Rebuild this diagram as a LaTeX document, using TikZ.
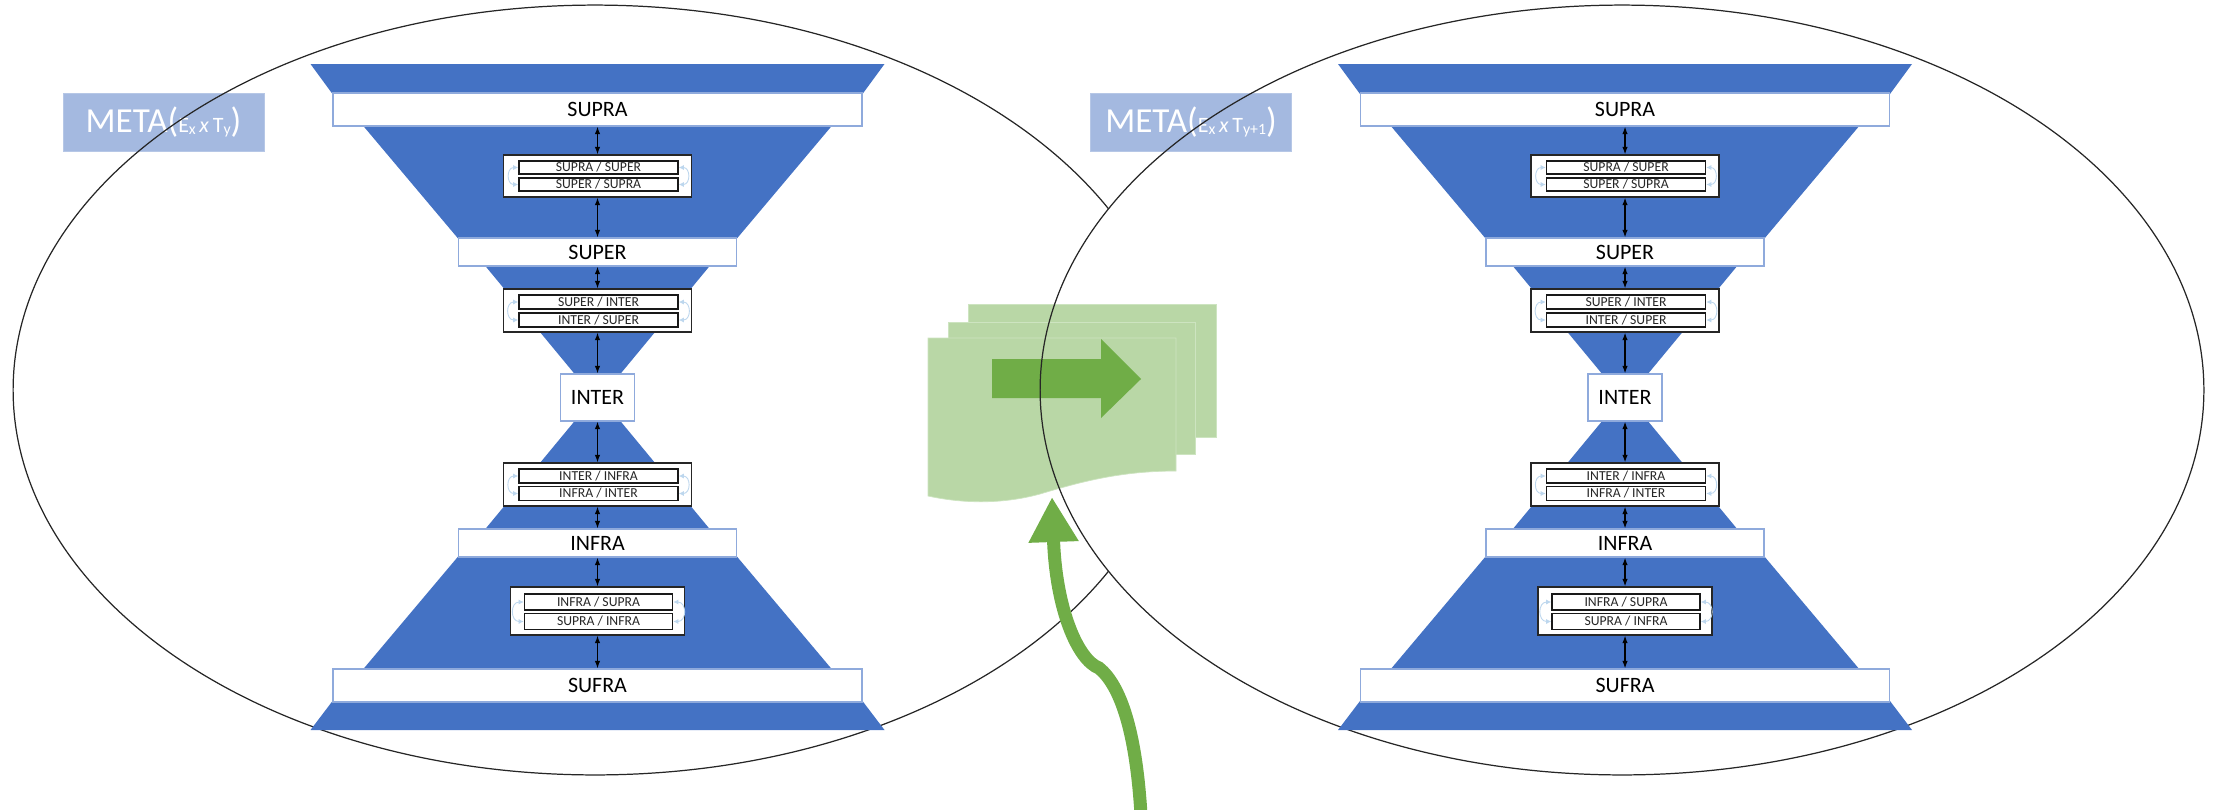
\documentclass[tikz,border=0pt]{standalone}
\usepackage{fontspec}
\setmainfont{Carlito}
\usetikzlibrary{arrows.meta}
\definecolor{dblue}{RGB}{68,114,196}
\definecolor{lblue}{RGB}{143,170,220}
\definecolor{metablue}{RGB}{164,185,224}
\definecolor{cycblue}{RGB}{189,215,238}
\definecolor{gdoc}{RGB}{185,215,166}
\definecolor{gdocline}{RGB}{205,228,192}
\definecolor{garr}{RGB}{112,173,71}
\tikzset{
  lvl/.style={draw=lblue, line width=0.8pt, fill=white, inner sep=0pt, text=black,
    font=\fontsize{12.5}{14}\selectfont},
  cont/.style={draw=black!85, line width=0.8pt, fill=white, inner sep=0pt},
  inbox/.style={draw=black!90, line width=0.9pt, fill=white, inner sep=0pt, text=black!85,
    font=\fontsize{7.8}{8}\selectfont},
  dbl/.style={black, line width=0.6pt, {Latex[length=1.5mm,width=1.1mm]}-{Latex[length=1.5mm,width=1.1mm]}},
  cyc/.style={draw=cycblue, line width=0.5pt, {Latex[length=1mm,width=1mm]}-{Latex[length=1mm,width=1mm]}},
  metabox/.style={fill=metablue, draw=metablue!80!white, line width=0.4pt, text=white, inner sep=0pt},
  ell/.style={draw=black!85, line width=0.7pt},
  docshape/.style={fill=gdoc, draw=gdocline, line width=0.4pt},
  garrow/.style={draw=garr, line width=0.26cm, -{Triangle[width=0.94cm,length=0.9cm]}}
}
\newcommand{\metalabel}[3]{%
  \begin{scope}[shift={(#2,0)}]
  \node[metabox, minimum width=4.02cm, minimum height=1.16cm] (#1meta) at (-434,122)
    {{\fontsize{20}{20}\selectfont META(}{\fontsize{12.5}{12}\selectfont E{\fontsize{9}{9}\selectfont\raisebox{-0.3ex}{x}}\,\textit{x}\,T{\fontsize{9}{9}\selectfont\raisebox{-0.3ex}{#3}}}{\fontsize{20}{20}\selectfont )}};
  \end{scope}}
\newcommand{\levelstack}[2]{%
  \begin{scope}[shift={(#2,0)}]
  \fill[dblue] (-287,64) -- (287,64) -- (265,94) -- (-265,94) -- cycle;
  \fill[dblue] (-235,125) -- (235,125) -- (139,239) -- (-139,239) -- cycle;
  \fill[dblue] (-113,265) -- (113,265) -- (22,375) -- (-22,375) -- cycle;
  \fill[dblue] (-22,420) -- (22,420) -- (113,530) -- (-113,530) -- cycle;
  \fill[dblue] (-139,556) -- (139,556) -- (235,670) -- (-235,670) -- cycle;
  \fill[dblue] (-265,701) -- (265,701) -- (287,730) -- (-287,730) -- cycle;
  \node[lvl, minimum width=10.58cm, minimum height=0.66cm] (#1supra) at (0,109.5) {SUPRA};
  \node[lvl, minimum width=5.56cm, minimum height=0.56cm] (#1super) at (0,252) {SUPER};
  \node[lvl, minimum width=1.48cm, minimum height=0.94cm] (#1inter) at (0,397.5) {INTER};
  \node[lvl, minimum width=5.56cm, minimum height=0.56cm] (#1infra) at (0,543) {INFRA};
  \node[lvl, minimum width=10.58cm, minimum height=0.66cm] (#1sufra) at (0,685.5) {SUFRA};
  % containers
  \node[cont, minimum width=3.76cm, minimum height=0.84cm] (#1ca) at (0,176) {};
  \node[inbox, minimum width=3.18cm, minimum height=0.27cm] (#1ca1) at (1,167.5) {SUPRA / SUPER};
  \node[inbox, minimum width=3.18cm, minimum height=0.27cm] (#1ca2) at (1,184.5) {SUPER / SUPRA};
  \node[cont, minimum width=3.76cm, minimum height=0.86cm] (#1cb) at (0,310.5) {};
  \node[inbox, minimum width=3.18cm, minimum height=0.28cm] (#1cb1) at (1,302) {SUPER / INTER};
  \node[inbox, minimum width=3.18cm, minimum height=0.28cm] (#1cb2) at (1,320) {INTER / SUPER};
  \node[cont, minimum width=3.76cm, minimum height=0.86cm] (#1cc) at (0,484.5) {};
  \node[inbox, minimum width=3.18cm, minimum height=0.28cm] (#1cc1) at (1,476) {INTER / INFRA};
  \node[inbox, minimum width=3.18cm, minimum height=0.28cm] (#1cc2) at (1,493.5) {INFRA / INTER};
  \node[cont, minimum width=3.48cm, minimum height=0.96cm] (#1cd) at (0,611) {};
  \node[inbox, minimum width=2.96cm, minimum height=0.32cm] (#1cd1) at (1,602) {INFRA / SUPRA};
  \node[inbox, minimum width=2.96cm, minimum height=0.32cm] (#1cd2) at (1,621.5) {SUPRA / INFRA};
  % vertical double arrows
  \draw[dbl] (#1supra.south) -- (#1ca.north);
  \draw[dbl] (#1ca.south) -- (#1super.north);
  \draw[dbl] (#1super.south) -- (#1cb.north);
  \draw[dbl] (#1cb.south) -- (#1inter.north);
  \draw[dbl] (#1inter.south) -- (#1cc.north);
  \draw[dbl] (#1cc.south) -- (#1infra.north);
  \draw[dbl] (#1infra.south) -- (#1cd.north);
  \draw[dbl] (#1cd.south) -- (#1sufra.north);
  % small cycle arrows
  \foreach \c in {ca,cb,cc,cd}{
    \draw[cyc] (#1\c1.west) to[out=180,in=180,looseness=1.8] (#1\c2.west);
    \draw[cyc] (#1\c1.east) to[out=0,in=0,looseness=1.8] (#1\c2.east);
  }
  \end{scope}}
\begin{document}
\begin{tikzpicture}[x=0.02cm, y=-0.02cm]
\useasboundingbox (0,0) rectangle (2227,809);
% left META and ellipse
\metalabel{L}{597.5}{y}
\draw[ell] (595,390) ellipse [x radius=11.64cm, y radius=7.7cm];
% right ellipse fill (hides part of left ellipse)
\fill[white] (1622,390) ellipse [x radius=11.64cm, y radius=7.7cm];
\metalabel{R}{1625}{y+1}
% green multi-document with arrow
\path[docshape] (968,304) rectangle (1216,437);
\path[docshape] (948,322) rectangle (1195,454);
\path[docshape] (928,338) -- (1176,338) -- (1176,471)
  .. controls (1120,471) and (1080,482) .. (1040,494)
  .. controls (1000,505) and (960,503) .. (928,496) -- cycle;
\fill[garr] (992,359) -- (1101,359) -- (1101,339) -- (1141,379) -- (1101,418) -- (1101,398) -- (992,398) -- cycle;
% right ellipse outline
\draw[ell] (1622,390) ellipse [x radius=11.64cm, y radius=7.7cm];
% the two level stacks
\levelstack{L}{597.5}
\levelstack{R}{1625}
% curved green arrow
\coordinate (gstart) at (1141,815);
\coordinate (gend) at (1052,497);
\draw[garrow] (gstart) .. controls (1136,730) and (1120,685) .. (1099,668)
  .. controls (1078,660) and (1056,610) .. (gend);
\end{tikzpicture}
\end{document}
